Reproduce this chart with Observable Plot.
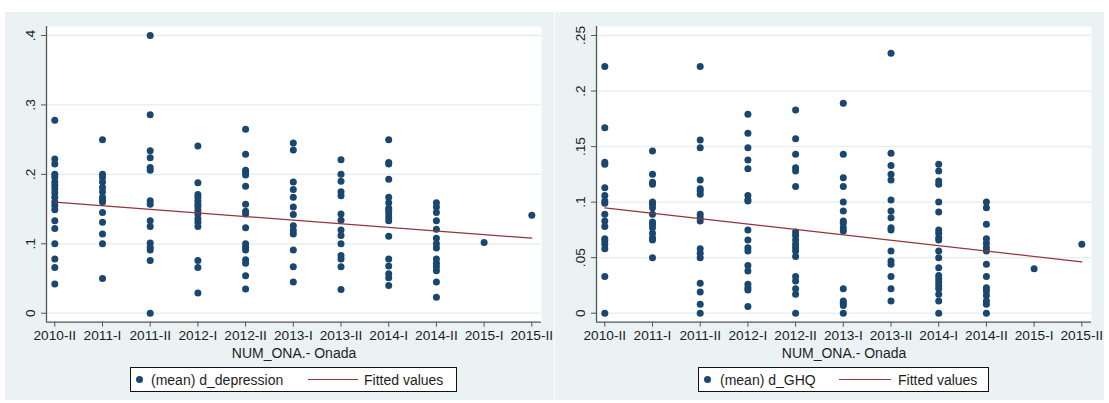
<!DOCTYPE html>
<html>
<head>
<meta charset="utf-8">
<script src="https://cdn.jsdelivr.net/npm/d3@7"></script>
<script src="https://cdn.jsdelivr.net/npm/@observablehq/plot@0.6"></script>
<style>
  body { margin: 0; background: #fff; }
  #root { position: relative; width: 1109px; height: 403px; overflow: hidden; font-family: "Liberation Sans", Arial, Helvetica, sans-serif; color: #1e1e1e; }
  .bg { position: absolute; top: 12px; height: 388px; background: #eaf2f3; }
  .panel { position: absolute; top: 0; }
  .panel svg { background: transparent !important; overflow: visible; }
  .legend { position: absolute; top: 367px; height: 23px; background: #fff; border: 1px solid #111; font-size: 14px; }
  .legend span, .legend i { position: absolute; }
  .legend .dot { width: 7px; height: 7px; border-radius: 50%; background: #1a476f; top: 8px; }
  .legend .ln { height: 1.3px; background: #90353b; top: 11px; }
  .legend .tx { top: 3.5px; line-height: 16px; white-space: nowrap; }
</style>
</head>
<body>
<div id="root">
  <div class="bg" style="left:5px;width:549px"></div>
  <div class="bg" style="left:555px;width:549px"></div>
  <div class="panel" id="p1" style="left:0px"></div>
  <div class="panel" id="p2" style="left:550px"></div>
  <div class="legend" style="left:130px;width:325px">
    <i class="dot" style="left:5px"></i>
    <span class="tx" style="left:20px" id="lg1a"></span>
    <i class="ln" style="left:177px;width:50px"></i>
    <span class="tx" style="left:233px" id="lg1b"></span>
  </div>
  <div class="legend" style="left:698px;width:289px">
    <i class="dot" style="left:5px"></i>
    <span class="tx" style="left:21px" id="lg2a"></span>
    <i class="ln" style="left:140px;width:52px"></i>
    <span class="tx" style="left:199px" id="lg2b"></span>
  </div>
</div>
<script>
const periods = ["2010-II","2011-I","2011-II","2012-I","2012-II","2013-I","2013-II","2014-I","2014-II","2015-I","2015-II"];
const xTitle = "NUM_ONA.- Onada";

// (mean) d_depression by period
const depression = [
  [0.278,0.222,0.215,0.2,0.196,0.189,0.184,0.179,0.173,0.167,0.16,0.155,0.149,0.133,0.122,0.1,0.078,0.066,0.042],
  [0.25,0.2,0.196,0.189,0.181,0.175,0.167,0.163,0.16,0.145,0.131,0.114,0.1,0.05],
  [0.4,0.286,0.234,0.224,0.21,0.206,0.162,0.157,0.133,0.125,0.101,0.095,0.091,0.076,0],
  [0.241,0.188,0.171,0.167,0.162,0.157,0.153,0.148,0.143,0.136,0.131,0.125,0.076,0.066,0.029],
  [0.265,0.229,0.206,0.203,0.199,0.183,0.157,0.147,0.143,0.123,0.1,0.095,0.091,0.077,0.072,0.054,0.035],
  [0.245,0.235,0.189,0.178,0.167,0.153,0.142,0.126,0.119,0.114,0.091,0.067,0.045],
  [0.221,0.2,0.19,0.175,0.169,0.143,0.134,0.12,0.112,0.1,0.083,0.078,0.067,0.034],
  [0.25,0.217,0.215,0.193,0.167,0.159,0.151,0.148,0.143,0.138,0.133,0.111,0.078,0.068,0.057,0.051,0.04],
  [0.159,0.153,0.145,0.133,0.121,0.108,0.1,0.094,0.078,0.072,0.067,0.061,0.045,0.023],
  [0.102],
  [0.141]
];
// Fitted values (linear fit) at first and last period
const depFitPeriods = [0, 10];
const depFitted = [0.160, 0.108];

// (mean) d_GHQ by period
const ghq = [
  [0.222,0.167,0.136,0.134,0.113,0.106,0.101,0.099,0.089,0.083,0.078,0.067,0.065,0.062,0.058,0.033,0],
  [0.146,0.125,0.118,0.116,0.1,0.098,0.095,0.089,0.082,0.08,0.077,0.072,0.068,0.066,0.05],
  [0.222,0.156,0.149,0.12,0.112,0.11,0.107,0.089,0.086,0.083,0.058,0.054,0.05,0.027,0.019,0.008,0],
  [0.179,0.162,0.149,0.138,0.13,0.106,0.102,0.101,0.075,0.066,0.059,0.056,0.043,0.038,0.026,0.023,0.021,0.006],
  [0.183,0.157,0.143,0.131,0.128,0.114,0.073,0.07,0.066,0.062,0.059,0.056,0.051,0.033,0.029,0.022,0.017,0],
  [0.189,0.143,0.122,0.114,0.1,0.092,0.083,0.081,0.077,0.074,0.022,0.011,0.009,0.007,0],
  [0.234,0.144,0.133,0.125,0.12,0.102,0.092,0.086,0.077,0.075,0.056,0.047,0.044,0.033,0.022,0.011],
  [0.134,0.128,0.119,0.116,0.1,0.091,0.075,0.072,0.068,0.066,0.056,0.05,0.041,0.034,0.031,0.028,0.025,0.022,0.017,0.011,0],
  [0.1,0.095,0.08,0.067,0.063,0.059,0.056,0.044,0.033,0.023,0.02,0.016,0.011,0.008,0],
  [0.04],
  [0.062]
];
const ghqFitPeriods = [0, 10];
const ghqFitted = [0.0948, 0.0462];

const depTicks = [0, 0.1, 0.2, 0.3, 0.4];
const depTickLabels = ["0", ".1", ".2", ".3", ".4"];
const ghqTicks = [0, 0.05, 0.1, 0.15, 0.2, 0.25];
const ghqTickLabels = ["0", ".05", ".1", ".15", ".2", ".25"];

const legendDep = ["(mean) d_depression", "Fitted values"];
const legendGhq = ["(mean) d_GHQ", "Fitted values"];

const navy = "#1a476f", maroon = "#90353b", axisCol = "#555";
const xDomain = [-0.174, 10.203];

function panel(values, fitX, fitY, yDomain, ticks, tickLabels) {
  const rows = values.flatMap((arr, i) => arr.map(v => ({i, v})));
  const fitRows = fitX.map((x, k) => ({i: x, v: fitY[k]}));
  const tickRows = ticks.map((t, k) => ({t, label: tickLabels[k]}));
  return Plot.plot({
    width: 555,
    height: 367,
    marginLeft: 46,
    marginRight: 14,
    marginTop: 26,
    marginBottom: 45.3,
    x: {domain: xDomain, axis: null},
    y: {domain: yDomain, axis: null},
    style: {background: "transparent", fontFamily: "'Liberation Sans', Arial, Helvetica, sans-serif", fontSize: "14px", color: "#1e1e1e"},
    marks: [
      Plot.frame({fill: "white", stroke: "none"}),
      Plot.gridY(ticks, {stroke: "#e4edef", strokeOpacity: 1, strokeWidth: 1.3}),
      Plot.dot(rows, {x: "i", y: "v", r: 3.5, fill: navy, stroke: "none"}),
      Plot.line(fitRows, {x: "i", y: "v", stroke: maroon, strokeWidth: 1.2}),
      Plot.ruleX([xDomain[0]], {stroke: axisCol, strokeWidth: 1.3}),
      Plot.ruleY([yDomain[0]], {stroke: axisCol, strokeWidth: 1.3}),
      Plot.axisX({ticks: d3.range(periods.length), tickSize: 5, tickPadding: 3, tickFormat: i => periods[i], stroke: axisCol, fontSize: 13.7, label: null}),
      Plot.axisY({ticks: ticks, tickSize: 5, tickFormat: () => "", stroke: axisCol, label: null}),
      Plot.text(tickRows, {y: "t", text: "label", frameAnchor: "left", dx: -16, rotate: -90, textAnchor: "middle", lineAnchor: "middle", fontSize: 13.7}),
      Plot.text([xTitle], {text: d => d, frameAnchor: "bottom", lineAnchor: "middle", dy: 31, fontSize: 14})
    ]
  });
}

document.getElementById("p1").appendChild(panel(depression, depFitPeriods, depFitted, [-0.01296, 0.41296], depTicks, depTickLabels));
document.getElementById("p2").appendChild(panel(ghq, ghqFitPeriods, ghqFitted, [-0.0081, 0.2581], ghqTicks, ghqTickLabels));
document.getElementById("lg1a").textContent = legendDep[0];
document.getElementById("lg1b").textContent = legendDep[1];
document.getElementById("lg2a").textContent = legendGhq[0];
document.getElementById("lg2b").textContent = legendGhq[1];
</script>
</body>
</html>
